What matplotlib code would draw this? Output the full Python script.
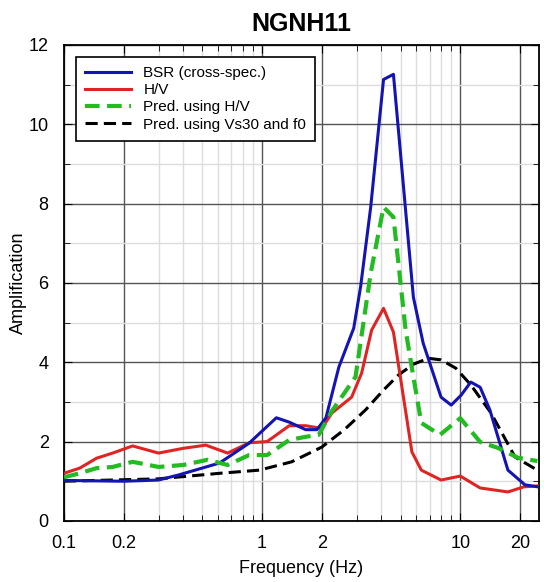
import matplotlib
matplotlib.use('Agg')
import matplotlib.pyplot as plt
from matplotlib.ticker import FixedLocator, NullFormatter

plt.rcParams['font.family'] = ['Liberation Sans', 'DejaVu Sans']

# BSR (cross-spectral ratio)
bsr_f = [0.1, 0.2, 0.3, 0.38, 0.61, 0.86, 1.18, 1.37, 1.66, 1.89, 2.1, 2.44, 2.9,
         3.14, 3.53, 4.1, 4.6, 5.8, 6.5, 8.0, 9.0, 10.1, 11.3, 12.6, 14.1, 17.4, 21.2, 24.5]
bsr_a = [1.02, 1.0, 1.03, 1.16, 1.46, 1.96, 2.6, 2.49, 2.3, 2.3, 2.6, 3.88, 4.86,
         5.9, 7.9, 11.13, 11.26, 5.64, 4.48, 3.12, 2.92, 3.17, 3.5, 3.37, 2.8, 1.28, 0.91, 0.86]

# H/V
hv_f = [0.1, 0.12, 0.146, 0.176, 0.222, 0.30, 0.40, 0.52, 0.67, 0.86, 1.06, 1.37, 1.66,
        2.0, 2.25, 2.83, 3.18, 3.57, 4.1, 4.6, 5.7, 6.36, 8.0, 10.0, 12.6, 17.4, 21.0, 24.5]
hv_a = [1.2, 1.33, 1.58, 1.71, 1.89, 1.71, 1.83, 1.91, 1.71, 1.97, 2.0, 2.4, 2.4,
        2.33, 2.72, 3.12, 3.73, 4.81, 5.36, 4.76, 1.74, 1.28, 1.03, 1.13, 0.83, 0.73, 0.86, 0.88]

# predicted using H/V
phv_f = [0.1, 0.12, 0.146, 0.176, 0.222, 0.30, 0.40, 0.53, 0.67, 0.86, 1.06, 1.37, 1.66,
         1.93, 2.25, 2.96, 3.53, 4.1, 4.6, 5.3, 5.8, 6.36, 7.9, 10.0, 12.6, 15.5, 19.6, 24.5]
phv_a = [1.1, 1.2, 1.33, 1.36, 1.49, 1.36, 1.41, 1.54, 1.41, 1.66, 1.66, 2.04, 2.12,
         2.17, 2.77, 3.63, 6.24, 7.91, 7.66, 4.81, 3.63, 2.47, 2.17, 2.59, 1.99, 1.84, 1.59, 1.51]

# predicted using Vs30 and f0
pvs_f = [0.1, 0.3, 0.61, 0.97, 1.41, 2.0, 2.6, 3.33, 4.1, 4.88, 5.8, 6.9, 8.0,
         9.5, 11.3, 14.3, 18.9, 24.5]
pvs_a = [1.0, 1.06, 1.2, 1.28, 1.49, 1.86, 2.3, 2.8, 3.3, 3.68, 3.95, 4.1, 4.06,
         3.85, 3.43, 2.72, 1.61, 1.28]

xticks = [0.1, 0.2, 1, 2, 10, 20]
xtick_labels = ['0.1', '0.2', '1', '2', '10', '20']
xminor = [0.3, 0.4, 0.5, 0.6, 0.7, 0.8, 0.9, 3, 4, 5, 6, 7, 8, 9]

fig = plt.figure(figsize=(5.44, 5.82), dpi=100)
ax = fig.add_axes([0.1176, 0.105, 0.8734, 0.8177])

ax.plot(bsr_f, bsr_a, color='#1414b4', lw=2.2, label='BSR (cross-spec.)', zorder=5)
ax.plot(hv_f, hv_a, color='#e02424', lw=2.2, label='H/V', zorder=4)
ax.plot(phv_f, phv_a, color='#22bb22', lw=3.0, ls=(0, (3.5, 1.8)), label='Pred. using H/V', zorder=6)
ax.plot(pvs_f, pvs_a, color='black', lw=2.2, ls=(0, (4, 2)), label='Pred. using Vs30 and f0', zorder=3)

ax.set_xscale('log')
ax.set_xlim(0.1, 25)
ax.set_ylim(0, 12)

ax.xaxis.set_major_locator(FixedLocator(xticks))
ax.set_xticklabels(xtick_labels)
ax.xaxis.set_minor_locator(FixedLocator(xminor))
ax.xaxis.set_minor_formatter(NullFormatter())
ax.set_yticks([0, 2, 4, 6, 8, 10, 12])
ax.set_yticks([1, 3, 5, 7, 9, 11], minor=True)

ax.grid(True, which='major', color='#555555', lw=1.0)
ax.grid(True, which='minor', color='#dddddd', lw=1.0)
ax.set_axisbelow(True)

ax.tick_params(which='both', direction='in', top=True, right=True, labelsize=13)
ax.tick_params(axis='x', which='major', pad=10)
ax.tick_params(axis='y', which='major', pad=11)
ax.tick_params(which='major', length=6)
ax.tick_params(which='minor', length=4)
for s in ax.spines.values():
    s.set_linewidth(1.3)

ax.set_xlabel('Frequency (Hz)', fontsize=13, labelpad=6)
ax.set_ylabel('Amplification', fontsize=13)
ax.yaxis.set_label_coords(-0.078, 0.5)
ax.set_title('NGNH11', fontsize=18, fontweight='bold', pad=10)

leg = ax.legend(loc='upper left', fontsize=11, frameon=True, fancybox=False,
                edgecolor='black', framealpha=1, handlelength=3.0,
                borderaxespad=0.8, labelspacing=0.2, borderpad=0.6)
leg.get_frame().set_linewidth(1.2)

fig.savefig('out.png', dpi=100)
